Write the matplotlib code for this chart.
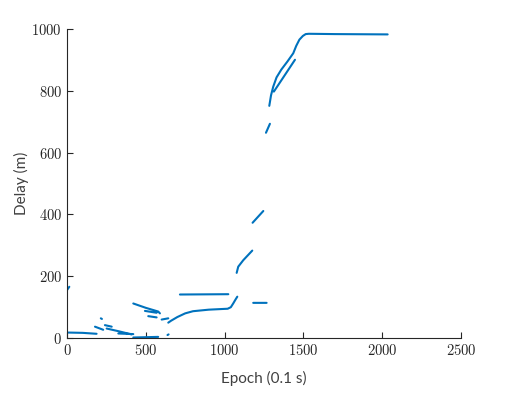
import numpy as np
import matplotlib
matplotlib.use('Agg')
import matplotlib.pyplot as plt
from matplotlib.ticker import FuncFormatter

nan = np.nan

# delay tracks, NaN separates the separate track pieces
low_epoch = [0, 15, nan, 8, 100, 188, nan, 215, 222, nan, 178, 230, nan, 241, 284, nan,
             252, 330, 410, nan, 326, 421, nan, 421, 500, 579, nan, 638, 645, nan,
             421, 500, 579, 590, nan, 495, 569, nan, 516, 569, nan, 601, 643]
low_delay = [155, 166, nan, 18, 17, 14, nan, 64, 62, nan, 37, 27, nan, 42, 37, nan,
             31, 22, 12, nan, 15, 13, nan, 2, 3, 4, nan, 10, 12, nan,
             112, 98, 86, 80, nan, 88, 82, nan, 71, 67, nan, 60, 64]

mid_epoch = [643, 660, 700, 750, 800, 900, 1020, 1040, 1055, 1070, 1081, nan,
             717, 1024, nan, 1182, 1267, nan, 1077, 1087, 1119, 1176, nan,
             1178, 1246, nan, 1263, 1288]
mid_delay = [50, 56, 68, 80, 87, 92, 95, 100, 112, 125, 134, nan,
             141, 142, nan, 114, 114, nan, 211, 231, 252, 283, nan,
             373, 411, nan, 664, 693]

high_epoch = [1284, 1295, 1309, 1330, 1360, 1400, 1436, 1455, 1475, 1497, 1515, 1535, 1700, 2035, nan,
              1313, 1447]
high_delay = [751, 785, 813, 843, 868, 895, 921, 945, 965, 977, 983, 984, 983, 982, nan,
              797, 900]

blue = '#0072BD'
plt.rcParams['mathtext.fontset'] = 'cm'

fig = plt.figure(figsize=(5.11, 3.95), dpi=100)
ax = fig.add_axes([0.131, 0.144, 0.771, 0.783])

for ex, dl in [(low_epoch, low_delay), (mid_epoch, mid_delay), (high_epoch, high_delay)]:
    ax.plot(ex, dl, color=blue, linewidth=1.5, solid_capstyle='round')

ax.set_xlim(0, 2500)
ax.set_ylim(0, 1000)
ax.set_xticks(np.arange(0, 2501, 500))
ax.set_yticks(np.arange(0, 1001, 200))
fmt = FuncFormatter(lambda v, p: r'$%d$' % v)
ax.xaxis.set_major_formatter(fmt)
ax.yaxis.set_major_formatter(fmt)
ax.tick_params(direction='in', length=4, width=0.8, colors='#262626', labelsize=10.5)
for s in ['top', 'right']:
    ax.spines[s].set_visible(False)
for s in ['left', 'bottom']:
    ax.spines[s].set_color('#262626')
    ax.spines[s].set_linewidth(0.8)

ax.set_xlabel('Epoch (0.1 s)', family='Lato', fontsize=11, color='#404040', labelpad=9)
ax.set_ylabel('Delay (m)', family='Lato', fontsize=11, color='#404040', labelpad=2)

fig.savefig('out.png', dpi=100)
